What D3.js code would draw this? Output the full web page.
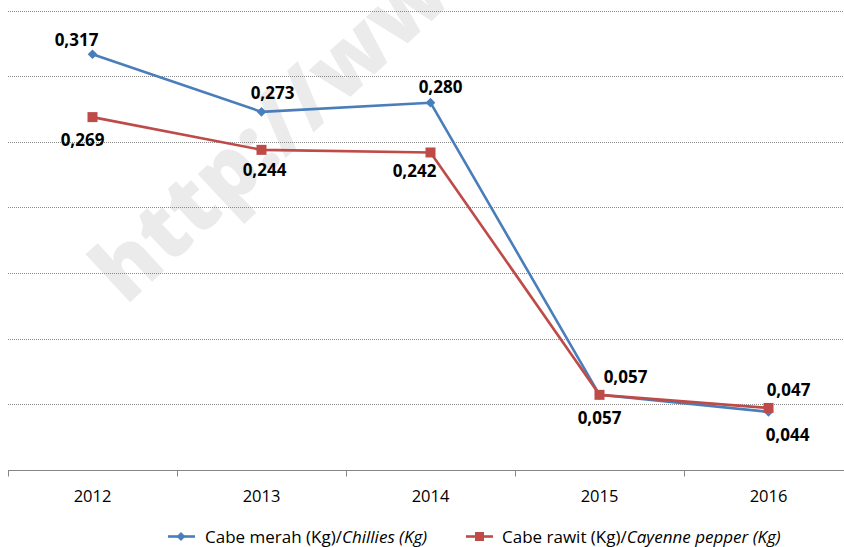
<!DOCTYPE html>
<html><head><meta charset="utf-8">
<script src="https://cdn.jsdelivr.net/npm/d3@7"></script>
<style>body{margin:0;background:#fff}svg{display:block}</style>
</head><body><svg id="c" width="844" height="547"></svg>
<script>
const years = ["2012","2013","2014","2015","2016"];
const chillies = [0.317,0.273,0.280,0.057,0.044];
const cayenne = [0.269,0.244,0.242,0.057,0.047];
const yTicks = [0,0.05,0.10,0.15,0.20,0.25,0.30,0.35];
const seriesNames = ["Cabe merah (Kg)/", "Chillies (Kg)", "Cabe rawit (Kg)/", "Cayenne pepper (Kg)"];
// label offsets (layout) relative to each point
const chilliesLabelOff = [[-16,-8],[11,-13],[10,-10],[26,-12],[19,29]];
const cayenneLabelOff = [[-10,29],[3,26],[-16,25],[0,29],[20,-12]];

const svg = d3.select("#c");
const FONT = "'Open Sans', sans-serif";
const x = d3.scaleBand().domain(years).range([8, 853]);
const y = d3.scaleLinear().domain([0,0.35]).range([469.5, 11]);
const blue = "#4A7EBB", red = "#BE4B48";

// watermark
svg.append("text").attr("transform","translate(126,306) rotate(-43)")
  .attr("font-family", FONT).attr("font-weight","800").attr("font-size",86)
  .attr("fill","#ebebeb").text("http://www");

// gridlines
svg.append("g").selectAll("line").data(yTicks.slice(1)).join("line")
  .attr("x1",8).attr("x2",844).attr("y1",d=>Math.round(y(d))+0.5).attr("y2",d=>Math.round(y(d))+0.5)
  .attr("stroke","#8a8a8a").attr("stroke-width",1).attr("stroke-dasharray","1,1");

// x axis
const ax = svg.append("g").attr("transform",`translate(0,${Math.round(y(0))+0.5})`);
ax.append("line").attr("x1",8).attr("x2",844).attr("stroke","#868686");
const bounds = years.map(d=>x(d)).concat([x.range()[1]]);
ax.selectAll("line.t").data(bounds).join("line").attr("class","t")
  .attr("x1",d=>Math.round(d)+0.5).attr("x2",d=>Math.round(d)+0.5).attr("y1",0).attr("y2",6).attr("stroke","#868686");
ax.selectAll("text").data(years).join("text")
  .attr("x",d=>x(d)+x.bandwidth()/2).attr("y",31).attr("text-anchor","middle")
  .attr("font-family",FONT).attr("font-size",16.5).attr("fill","#000").text(d=>d);

const cx = d=>x(d)+x.bandwidth()/2;
const line = d3.line().x((d,i)=>cx(years[i])).y(d=>y(d));

function drawSeries(vals, color, marker){
  svg.append("path").datum(vals).attr("d",line).attr("fill","none")
    .attr("stroke",color).attr("stroke-width",2.6).attr("stroke-linejoin","round");
  const g = svg.append("g");
  vals.forEach((v,i)=>{
    const px = cx(years[i]), py = y(v);
    if(marker==="diamond"){
      g.append("path").attr("d",d3.symbol().type(d3.symbolDiamond2).size(60)())
        .attr("transform",`translate(${px},${py})`).attr("fill",color);
    } else {
      g.append("rect").attr("x",px-5).attr("y",py-5).attr("width",10).attr("height",10).attr("fill",color);
    }
  });
}
drawSeries(chillies, blue, "diamond");
drawSeries(cayenne, red, "square");

function labels(vals, offs){
  svg.append("g").selectAll("text").data(vals).join("text")
    .attr("x",(d,i)=>cx(years[i])+offs[i][0]).attr("y",(d,i)=>y(d)+offs[i][1])
    .attr("text-anchor","middle").attr("font-family",FONT).attr("font-weight","bold")
    .attr("font-size",17).attr("fill","#000")
    .text(d=>d3.format(".3f")(d).replace(".",","));
}
labels(chillies, chilliesLabelOff);
labels(cayenne, cayenneLabelOff);

// legend
const lg = svg.append("g").attr("font-family",FONT).attr("font-size",17).attr("fill","#000");
function legendItem(x0, color, marker, t1, t2, off){
  lg.append("line").attr("x1",x0).attr("x2",x0+27).attr("y1",536.5).attr("y2",536.5).attr("stroke",color).attr("stroke-width",2.6);
  if(marker==="diamond") lg.append("path").attr("d",d3.symbol().type(d3.symbolDiamond2).size(50)()).attr("transform",`translate(${x0+13},536.5)`).attr("fill",color);
  else lg.append("rect").attr("x",x0+9).attr("y",532).attr("width",9).attr("height",9).attr("fill",color);
  const t = lg.append("text").attr("x",x0+off).attr("y",542.5);
  t.append("tspan").text(t1);
  t.append("tspan").attr("font-style","italic").text(t2);
}
legendItem(168, blue, "diamond", seriesNames[0], seriesNames[1], 37);
legendItem(466, red, "square", seriesNames[2], seriesNames[3], 36);
</script></body></html>
